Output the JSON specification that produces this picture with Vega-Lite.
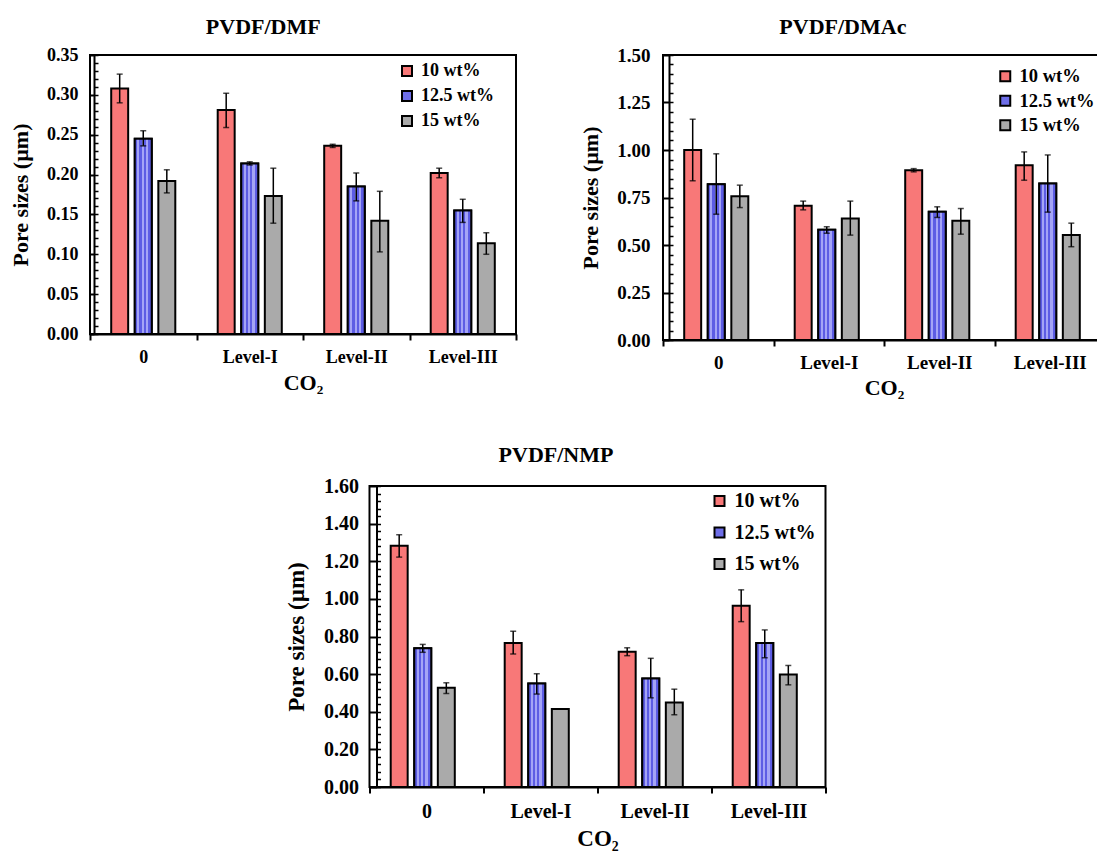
{
  "$schema": "https://vega.github.io/schema/vega-lite/v6.json",
  "background": "white",
  "padding": {"left": 8, "top": 15, "right": 0, "bottom": 0},
  "center": true,
  "spacing": 44,
  "resolve": {"scale": {"color": "independent"}, "legend": {"color": "independent"}},
  "datasets": {
    "dmf": [
      {"co2": "0", "conc": "10 wt%", "value": 0.308, "lo": 0.290, "hi": 0.326},
      {"co2": "0", "conc": "12.5 wt%", "value": 0.245, "lo": 0.236, "hi": 0.255},
      {"co2": "0", "conc": "15 wt%", "value": 0.192, "lo": 0.177, "hi": 0.206},
      {"co2": "Level-I", "conc": "10 wt%", "value": 0.281, "lo": 0.259, "hi": 0.302},
      {"co2": "Level-I", "conc": "12.5 wt%", "value": 0.214, "lo": 0.212, "hi": 0.216},
      {"co2": "Level-I", "conc": "15 wt%", "value": 0.173, "lo": 0.139, "hi": 0.208},
      {"co2": "Level-II", "conc": "10 wt%", "value": 0.236, "lo": 0.234, "hi": 0.238},
      {"co2": "Level-II", "conc": "12.5 wt%", "value": 0.185, "lo": 0.167, "hi": 0.202},
      {"co2": "Level-II", "conc": "15 wt%", "value": 0.142, "lo": 0.103, "hi": 0.179},
      {"co2": "Level-III", "conc": "10 wt%", "value": 0.202, "lo": 0.196, "hi": 0.208},
      {"co2": "Level-III", "conc": "12.5 wt%", "value": 0.155, "lo": 0.140, "hi": 0.169},
      {"co2": "Level-III", "conc": "15 wt%", "value": 0.114, "lo": 0.100, "hi": 0.127}
    ],
    "dmac": [
      {"co2": "0", "conc": "10 wt%", "value": 1.000, "lo": 0.838, "hi": 1.162},
      {"co2": "0", "conc": "12.5 wt%", "value": 0.820, "lo": 0.662, "hi": 0.980},
      {"co2": "0", "conc": "15 wt%", "value": 0.757, "lo": 0.697, "hi": 0.815},
      {"co2": "Level-I", "conc": "10 wt%", "value": 0.706, "lo": 0.685, "hi": 0.731},
      {"co2": "Level-I", "conc": "12.5 wt%", "value": 0.580, "lo": 0.562, "hi": 0.596},
      {"co2": "Level-I", "conc": "15 wt%", "value": 0.640, "lo": 0.552, "hi": 0.731},
      {"co2": "Level-II", "conc": "10 wt%", "value": 0.894, "lo": 0.885, "hi": 0.902},
      {"co2": "Level-II", "conc": "12.5 wt%", "value": 0.675, "lo": 0.645, "hi": 0.701},
      {"co2": "Level-II", "conc": "15 wt%", "value": 0.627, "lo": 0.557, "hi": 0.692},
      {"co2": "Level-III", "conc": "10 wt%", "value": 0.920, "lo": 0.841, "hi": 0.990},
      {"co2": "Level-III", "conc": "12.5 wt%", "value": 0.824, "lo": 0.673, "hi": 0.974},
      {"co2": "Level-III", "conc": "15 wt%", "value": 0.552, "lo": 0.491, "hi": 0.615}
    ],
    "nmp": [
      {"co2": "0", "conc": "10 wt%", "value": 1.282, "lo": 1.222, "hi": 1.341},
      {"co2": "0", "conc": "12.5 wt%", "value": 0.737, "lo": 0.716, "hi": 0.758},
      {"co2": "0", "conc": "15 wt%", "value": 0.527, "lo": 0.497, "hi": 0.554},
      {"co2": "Level-I", "conc": "10 wt%", "value": 0.765, "lo": 0.707, "hi": 0.828},
      {"co2": "Level-I", "conc": "12.5 wt%", "value": 0.550, "lo": 0.494, "hi": 0.602},
      {"co2": "Level-I", "conc": "15 wt%", "value": 0.414, "lo": 0.414, "hi": 0.414},
      {"co2": "Level-II", "conc": "10 wt%", "value": 0.719, "lo": 0.698, "hi": 0.740},
      {"co2": "Level-II", "conc": "12.5 wt%", "value": 0.577, "lo": 0.474, "hi": 0.684},
      {"co2": "Level-II", "conc": "15 wt%", "value": 0.449, "lo": 0.384, "hi": 0.520},
      {"co2": "Level-III", "conc": "10 wt%", "value": 0.964, "lo": 0.879, "hi": 1.048},
      {"co2": "Level-III", "conc": "12.5 wt%", "value": 0.765, "lo": 0.687, "hi": 0.835},
      {"co2": "Level-III", "conc": "15 wt%", "value": 0.598, "lo": 0.543, "hi": 0.646}
    ]
  },
  "config": {
    "font": "Liberation Serif",
    "view": {"stroke": "black", "strokeWidth": 2},
    "title": {"font": "Liberation Serif", "fontSize": 22, "fontWeight": "bold", "color": "black", "frame": "bounds", "anchor": "middle"},
    "axis": {
      "labelFont": "Liberation Serif", "labelFontWeight": "bold", "labelColor": "black",
      "titleFont": "Liberation Serif", "titleFontWeight": "bold", "titleColor": "black",
      "domainColor": "black", "domainWidth": 2, "tickColor": "black", "tickWidth": 2, "grid": false
    },
    "axisX": {"labelAngle": 0, "tickBand": "extent", "tickSize": 6},
    "legend": {
      "orient": "none", "title": null, "symbolType": "square", "symbolSize": 100,
      "symbolStrokeColor": "black", "symbolStrokeWidth": 2, "symbolOpacity": 1,
      "labelFont": "Liberation Serif", "labelFontWeight": "bold", "labelColor": "black",
      "labelOffset": 5, "padding": 0
    }
  },
  "vconcat": [
    {
      "spacing": 60,
      "resolve": {"scale": {"color": "independent"}, "legend": {"color": "independent"}},
      "hconcat": [
        {
          "title": {"text": "PVDF/DMF", "offset": 7},
          "width": 426, "height": 279,
          "data": {"name": "dmf"},
          "encoding": {
            "x": {"field": "co2", "type": "nominal", "sort": ["0", "Level-I", "Level-II", "Level-III"], "scale": {"paddingInner": 0, "paddingOuter": 0}, "title": "CO₂",
                  "axis": {"labelFontSize": 18, "labelPadding": 8, "titleFontSize": 22, "titlePadding": 6}},
            "xOffset": {"field": "conc", "type": "nominal", "sort": ["10 wt%", "12.5 wt%", "15 wt%"], "scale": {"domain": ["10 wt%", "12.5 wt%", "15 wt%"], "paddingInner": 0.28, "paddingOuter": 0.9}}
          },
          "layer": [
            {"mark": {"type": "bar", "stroke": "black", "strokeWidth": 2},
             "encoding": {
               "y": {"field": "value", "type": "quantitative", "scale": {"domain": [0, 0.35], "nice": false}, "title": "Pore sizes (µm)",
                     "axis": {"orient": "left", "offset": -4, "values": [0, 0.05, 0.1, 0.15, 0.2, 0.25, 0.3, 0.35], "format": ".2f", "tickSize": 5, "labelFontSize": 18, "labelPadding": 11, "titleFontSize": 22, "titlePadding": 14}},
               "color": {"field": "conc", "type": "nominal", "scale": {"domain": ["10 wt%", "12.5 wt%", "15 wt%"], "range": ["#f87878", "#6e6ee8", "#aaaaaa"]},
                         "legend": {"legendX": 308, "legendY": 7, "labelFontSize": 18, "rowPadding": 7}}
             }},
            {"transform": [{"filter": "datum.conc === '12.5 wt%'"}],
             "mark": {"type": "bar", "stroke": "black", "strokeWidth": 2,
                      "fill": {"gradient": "linear", "x1": 0, "x2": 1, "y1": 0, "y2": 0, "stops": [
                        {"offset": 0, "color": "#5c5ce4"}, {"offset": 0.14, "color": "#5c5ce4"},
                        {"offset": 0.14, "color": "#a4a4f6"}, {"offset": 0.26, "color": "#a4a4f6"},
                        {"offset": 0.26, "color": "#5c5ce4"}, {"offset": 0.4, "color": "#5c5ce4"},
                        {"offset": 0.4, "color": "#a4a4f6"}, {"offset": 0.52, "color": "#a4a4f6"},
                        {"offset": 0.52, "color": "#5c5ce4"}, {"offset": 0.66, "color": "#5c5ce4"},
                        {"offset": 0.66, "color": "#a4a4f6"}, {"offset": 0.78, "color": "#a4a4f6"},
                        {"offset": 0.78, "color": "#5c5ce4"}, {"offset": 1, "color": "#5c5ce4"}]}},
             "encoding": {"y": {"field": "value", "type": "quantitative", "axis": null}}},
            {"mark": {"type": "rule", "color": "black", "strokeWidth": 1.5},
             "encoding": {"y": {"field": "lo", "type": "quantitative", "axis": null}, "y2": {"field": "hi"}}},
            {"mark": {"type": "tick", "color": "black", "thickness": 1.5, "size": 6},
             "encoding": {"y": {"field": "lo", "type": "quantitative", "axis": null}}},
            {"mark": {"type": "tick", "color": "black", "thickness": 1.5, "size": 6},
             "encoding": {"y": {"field": "hi", "type": "quantitative", "axis": null}}},
            {"mark": {"type": "point", "opacity": 0},
             "encoding": {"y": {"field": "value", "type": "quantitative",
                     "axis": {"orient": "left", "offset": -4, "values": [0, 0.01, 0.02, 0.03, 0.04, 0.05, 0.06, 0.07, 0.08, 0.09, 0.1, 0.11, 0.12, 0.13, 0.14, 0.15, 0.16, 0.17, 0.18, 0.19, 0.2, 0.21, 0.22, 0.23, 0.24, 0.25, 0.26, 0.27, 0.28, 0.29, 0.3, 0.31, 0.32, 0.33, 0.34, 0.35],
                              "labels": false, "domain": false, "tickSize": -4, "tickWidth": 1.5, "title": null}}}}
          ],
          "resolve": {"axis": {"y": "independent"}}
        },
        {
          "title": {"text": "PVDF/DMAc", "offset": 7},
          "width": 442, "height": 285,
          "data": {"name": "dmac"},
          "encoding": {
            "x": {"field": "co2", "type": "nominal", "sort": ["0", "Level-I", "Level-II", "Level-III"], "scale": {"paddingInner": 0, "paddingOuter": 0}, "title": "CO₂",
                  "axis": {"labelFontSize": 19, "labelPadding": 7, "titleFontSize": 22, "titlePadding": 5}},
            "xOffset": {"field": "conc", "type": "nominal", "sort": ["10 wt%", "12.5 wt%", "15 wt%"], "scale": {"domain": ["10 wt%", "12.5 wt%", "15 wt%"], "paddingInner": 0.28, "paddingOuter": 0.85}}
          },
          "layer": [
            {"mark": {"type": "bar", "stroke": "black", "strokeWidth": 2},
             "encoding": {
               "y": {"field": "value", "type": "quantitative", "scale": {"domain": [0, 1.5], "nice": false}, "title": "Pore sizes (µm)",
                     "axis": {"orient": "left", "offset": -6, "values": [0, 0.25, 0.5, 0.75, 1, 1.25, 1.5], "format": ".2f", "tickSize": 6, "labelFontSize": 19, "labelPadding": 13, "titleFontSize": 22, "titlePadding": 14}},
               "color": {"field": "conc", "type": "nominal", "scale": {"domain": ["10 wt%", "12.5 wt%", "15 wt%"], "range": ["#f87878", "#6e6ee8", "#aaaaaa"]},
                         "legend": {"legendX": 333, "legendY": 12, "labelFontSize": 18.5, "rowPadding": 5.5}}
             }},
            {"transform": [{"filter": "datum.conc === '12.5 wt%'"}],
             "mark": {"type": "bar", "stroke": "black", "strokeWidth": 2,
                      "fill": {"gradient": "linear", "x1": 0, "x2": 1, "y1": 0, "y2": 0, "stops": [
                        {"offset": 0, "color": "#5c5ce4"}, {"offset": 0.14, "color": "#5c5ce4"},
                        {"offset": 0.14, "color": "#a4a4f6"}, {"offset": 0.26, "color": "#a4a4f6"},
                        {"offset": 0.26, "color": "#5c5ce4"}, {"offset": 0.4, "color": "#5c5ce4"},
                        {"offset": 0.4, "color": "#a4a4f6"}, {"offset": 0.52, "color": "#a4a4f6"},
                        {"offset": 0.52, "color": "#5c5ce4"}, {"offset": 0.66, "color": "#5c5ce4"},
                        {"offset": 0.66, "color": "#a4a4f6"}, {"offset": 0.78, "color": "#a4a4f6"},
                        {"offset": 0.78, "color": "#5c5ce4"}, {"offset": 1, "color": "#5c5ce4"}]}},
             "encoding": {"y": {"field": "value", "type": "quantitative", "axis": null}}},
            {"mark": {"type": "rule", "color": "black", "strokeWidth": 1.5},
             "encoding": {"y": {"field": "lo", "type": "quantitative", "axis": null}, "y2": {"field": "hi"}}},
            {"mark": {"type": "tick", "color": "black", "thickness": 1.5, "size": 6},
             "encoding": {"y": {"field": "lo", "type": "quantitative", "axis": null}}},
            {"mark": {"type": "tick", "color": "black", "thickness": 1.5, "size": 6},
             "encoding": {"y": {"field": "hi", "type": "quantitative", "axis": null}}},
            {"mark": {"type": "point", "opacity": 0},
             "encoding": {"y": {"field": "value", "type": "quantitative",
                     "axis": {"orient": "left", "offset": -6, "values": [0, 0.05, 0.1, 0.15, 0.2, 0.25, 0.3, 0.35, 0.4, 0.45, 0.5, 0.55, 0.6, 0.65, 0.7, 0.75, 0.8, 0.85, 0.9, 0.95, 1, 1.05, 1.1, 1.15, 1.2, 1.25, 1.3, 1.35, 1.4, 1.45, 1.5],
                              "labels": false, "domain": false, "tickSize": -4, "tickWidth": 1.5, "title": null}}}}
          ],
          "resolve": {"axis": {"y": "independent"}}
        }
      ]
    },
    {
      "title": {"text": "PVDF/NMP", "offset": 9},
      "width": 456, "height": 301,
      "data": {"name": "nmp"},
      "encoding": {
        "x": {"field": "co2", "type": "nominal", "sort": ["0", "Level-I", "Level-II", "Level-III"], "scale": {"paddingInner": 0, "paddingOuter": 0}, "title": "CO₂",
              "axis": {"labelFontSize": 20, "labelPadding": 8, "titleFontSize": 23, "titlePadding": 6}},
        "xOffset": {"field": "conc", "type": "nominal", "sort": ["10 wt%", "12.5 wt%", "15 wt%"], "scale": {"domain": ["10 wt%", "12.5 wt%", "15 wt%"], "paddingInner": 0.28, "paddingOuter": 0.92}}
      },
      "layer": [
        {"mark": {"type": "bar", "stroke": "black", "strokeWidth": 2},
         "encoding": {
           "y": {"field": "value", "type": "quantitative", "scale": {"domain": [0, 1.6], "nice": false}, "title": "Pore sizes (µm)",
                 "axis": {"orient": "left", "offset": -7, "values": [0, 0.2, 0.4, 0.6, 0.8, 1, 1.2, 1.4, 1.6], "format": ".2f", "tickSize": 7, "labelFontSize": 20, "labelPadding": 11, "titleFontSize": 23, "titlePadding": 15}},
           "color": {"field": "conc", "type": "nominal", "scale": {"domain": ["10 wt%", "12.5 wt%", "15 wt%"], "range": ["#f87878", "#6e6ee8", "#aaaaaa"]},
                     "legend": {"legendX": 340, "legendY": 5, "labelFontSize": 20, "rowPadding": 11.5}}
         }},
        {"transform": [{"filter": "datum.conc === '12.5 wt%'"}],
         "mark": {"type": "bar", "stroke": "black", "strokeWidth": 2,
                  "fill": {"gradient": "linear", "x1": 0, "x2": 1, "y1": 0, "y2": 0, "stops": [
                    {"offset": 0, "color": "#5c5ce4"}, {"offset": 0.14, "color": "#5c5ce4"},
                    {"offset": 0.14, "color": "#a4a4f6"}, {"offset": 0.26, "color": "#a4a4f6"},
                    {"offset": 0.26, "color": "#5c5ce4"}, {"offset": 0.4, "color": "#5c5ce4"},
                    {"offset": 0.4, "color": "#a4a4f6"}, {"offset": 0.52, "color": "#a4a4f6"},
                    {"offset": 0.52, "color": "#5c5ce4"}, {"offset": 0.66, "color": "#5c5ce4"},
                    {"offset": 0.66, "color": "#a4a4f6"}, {"offset": 0.78, "color": "#a4a4f6"},
                    {"offset": 0.78, "color": "#5c5ce4"}, {"offset": 1, "color": "#5c5ce4"}]}},
         "encoding": {"y": {"field": "value", "type": "quantitative", "axis": null}}},
        {"mark": {"type": "rule", "color": "black", "strokeWidth": 1.5},
         "encoding": {"y": {"field": "lo", "type": "quantitative", "axis": null}, "y2": {"field": "hi"}}},
        {"mark": {"type": "tick", "color": "black", "thickness": 1.5, "size": 6},
         "encoding": {"y": {"field": "lo", "type": "quantitative", "axis": null}}},
        {"mark": {"type": "tick", "color": "black", "thickness": 1.5, "size": 6},
         "encoding": {"y": {"field": "hi", "type": "quantitative", "axis": null}}},
        {"mark": {"type": "point", "opacity": 0},
         "encoding": {"y": {"field": "value", "type": "quantitative",
                 "axis": {"orient": "left", "offset": -7, "values": [0, 0.04, 0.08, 0.12, 0.16, 0.2, 0.24, 0.28, 0.32, 0.36, 0.4, 0.44, 0.48, 0.52, 0.56, 0.6, 0.64, 0.68, 0.72, 0.76, 0.8, 0.84, 0.88, 0.92, 0.96, 1, 1.04, 1.08, 1.12, 1.16, 1.2, 1.24, 1.28, 1.32, 1.36, 1.4, 1.44, 1.48, 1.52, 1.56, 1.6],
                          "labels": false, "domain": false, "tickSize": -4, "tickWidth": 1.5, "title": null}}}}
      ],
      "resolve": {"axis": {"y": "independent"}}
    }
  ]
}
